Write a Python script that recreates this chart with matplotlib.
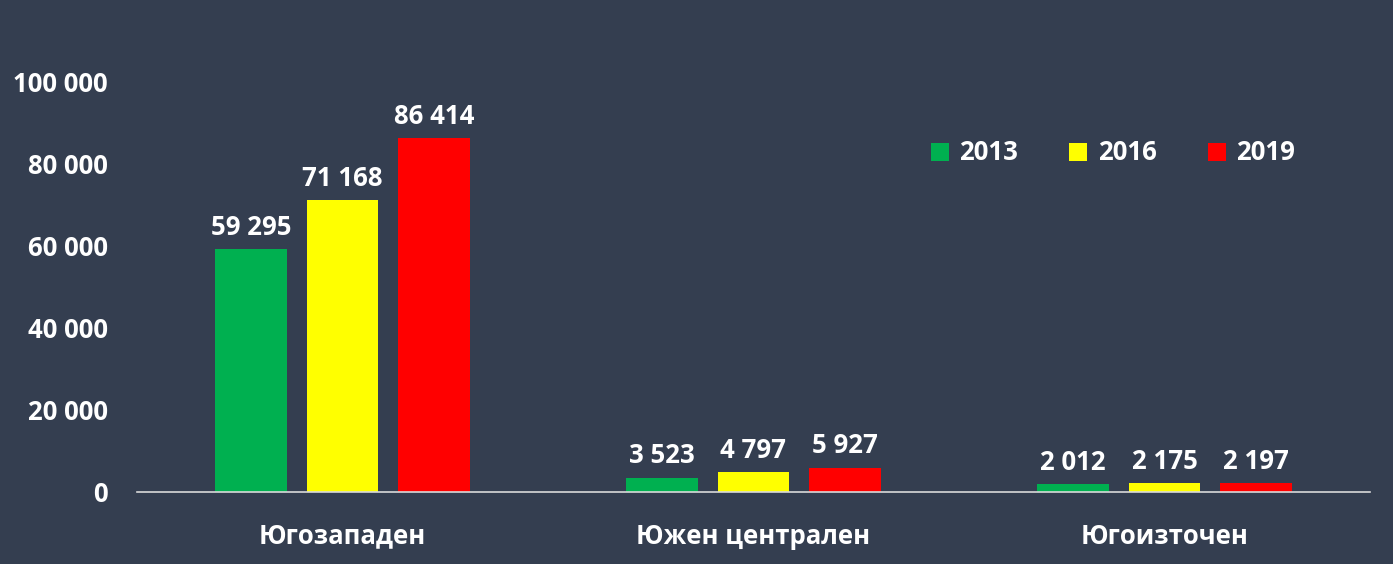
import matplotlib
matplotlib.use("Agg")
import matplotlib.pyplot as plt
import numpy as np

categories = ["Югозападен", "Южен централен", "Югоизточен"]
years = ["2013", "2016", "2019"]
values_2013 = [59295, 3523, 2012]
values_2016 = [71168, 4797, 2175]
values_2019 = [86414, 5927, 2197]
yticks = [0, 20000, 40000, 60000, 80000, 100000]

series = [values_2013, values_2016, values_2019]
colors = ["#00b050", "#ffff00", "#ff0000"]
bg = "#343e50"

plt.rcParams['font.family'] = ['Open Sans', 'DejaVu Sans']
plt.rcParams['font.weight'] = 'bold'
FS = 18.5

fig = plt.figure(figsize=(13.93, 5.64), dpi=100, facecolor=bg)
ax = fig.add_axes([137/1393, 1-492/564, (1370-137)/1393, (492-82)/564])
ax.set_facecolor(bg)

x = np.arange(len(categories))
w = 0.175
step = 0.222
def fmt(v):
    return f"{v:,}".replace(",", " ")

for i, (vals, c, yr) in enumerate(zip(series, colors, years)):
    bars = ax.bar(x + (i-1)*step, vals, width=w, color=c, label=yr, zorder=2)
    for b, v in zip(bars, vals):
        ax.text(b.get_x()+b.get_width()/2, v + 2000, fmt(v), ha='center', va='bottom',
                color='white', fontsize=FS, fontweight='bold')

ax.set_xlim(-0.5, 2.5)
ax.set_ylim(0, 100000)
ax.set_yticks(yticks)
ax.set_yticklabels([fmt(v) for v in yticks])
ax.set_xticks(x)
ax.set_xticklabels(categories)
ax.tick_params(axis='both', length=0, colors='white', labelsize=FS)
ax.tick_params(axis='y', pad=21)
ax.tick_params(axis='x', pad=22)
for lab in ax.get_xticklabels() + ax.get_yticklabels():
    lab.set_fontweight('bold')
for s in ['top', 'right', 'left']:
    ax.spines[s].set_visible(False)
ax.spines['bottom'].set_color('#d9d9d9')
ax.spines['bottom'].set_linewidth(1.2)

leg = ax.legend(loc='center', bbox_to_anchor=((1113-137)/1233, (492-153)/410), ncol=3,
                frameon=False, fontsize=FS, handlelength=0.7, handleheight=0.7,
                columnspacing=2.0, handletextpad=0.4)
for t in leg.get_texts():
    t.set_color('white')
    t.set_fontweight('bold')

fig.savefig("out.png", dpi=100, facecolor=bg)
